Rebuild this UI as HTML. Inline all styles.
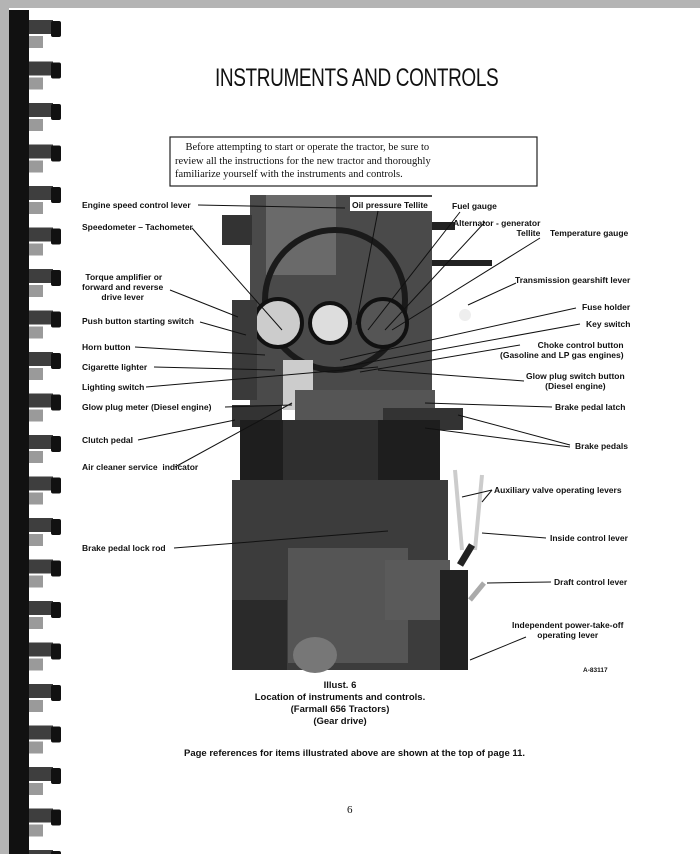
<!DOCTYPE html>
<html><head><meta charset="utf-8">
<style>
html,body{margin:0;padding:0;}
body{width:700px;height:854px;background:#fff;position:relative;overflow:hidden;font-family:"Liberation Sans",sans-serif;}
.t{position:absolute;white-space:nowrap;color:#111;}
</style></head><body>
<svg width="700" height="854" style="position:absolute;left:0;top:0">
<rect x="0" y="0" width="700" height="8" fill="#b4b4b4"/>
<rect x="0" y="0" width="9" height="854" fill="#b4b4b4"/>
<rect x="9" y="10" width="20" height="844" fill="#111"/>
<g id="coils">
</g>
<g>
<rect x="250" y="195" width="182" height="210" fill="#4a4a4a"/>
<rect x="266" y="195" width="70" height="80" fill="#6a6a6a"/>
<rect x="222" y="215" width="30" height="30" fill="#333"/>
<rect x="432" y="222" width="60" height="8" fill="#222"/>
<rect x="432" y="260" width="60" height="6" fill="#222"/>
<circle cx="335" cy="300" r="70" fill="none" stroke="#1a1a1a" stroke-width="6"/>
<circle cx="278" cy="323" r="24" fill="#ccc" stroke="#111" stroke-width="4"/>
<circle cx="330" cy="323" r="20" fill="#ddd" stroke="#111" stroke-width="4"/>
<circle cx="383" cy="323" r="24" fill="#555" stroke="#111" stroke-width="4"/>
<rect x="232" y="300" width="25" height="100" fill="#3a3a3a"/>
<rect x="283" y="360" width="30" height="50" fill="#ccc"/>
<rect x="295" y="390" width="140" height="30" fill="#555"/>
<rect x="232" y="405" width="50" height="22" fill="#333"/>
<rect x="383" y="408" width="80" height="22" fill="#333"/>
<rect x="240" y="420" width="200" height="62" fill="#1e1e1e"/>
<rect x="283" y="420" width="95" height="60" fill="#2f2f2f"/>
<rect x="232" y="480" width="216" height="190" fill="#3c3c3c"/>
<rect x="288" y="548" width="120" height="115" fill="#555"/>
<rect x="385" y="560" width="65" height="60" fill="#5a5a5a"/>
<rect x="440" y="570" width="28" height="100" fill="#222"/>
<rect x="232" y="600" width="55" height="70" fill="#2a2a2a"/>
<ellipse cx="315" cy="655" rx="22" ry="18" fill="#777"/>
<line x1="455" y1="470" x2="462" y2="550" stroke="#ccc" stroke-width="4"/>
<line x1="482" y1="475" x2="475" y2="550" stroke="#ccc" stroke-width="4"/>
<line x1="472" y1="545" x2="460" y2="565" stroke="#222" stroke-width="7"/>
<line x1="484" y1="583" x2="470" y2="600" stroke="#aaa" stroke-width="5"/>
<circle cx="465" cy="315" r="6" fill="#eee"/>
<rect x="350" y="197" width="100" height="14" fill="#fff"/>
<rect x="455" y="215" width="80" height="28" fill="#fff"/>
</g>
<g stroke="#111" stroke-width="1" fill="none">
<line x1="198" y1="205" x2="345" y2="208"/>
<line x1="192" y1="228" x2="282" y2="330"/>
<line x1="170" y1="290" x2="238" y2="317"/>
<line x1="200" y1="322" x2="246" y2="335"/>
<line x1="135" y1="347" x2="265" y2="355"/>
<line x1="154" y1="367" x2="275" y2="370"/>
<line x1="146" y1="387" x2="378" y2="367"/>
<line x1="225" y1="407" x2="292" y2="405"/>
<line x1="138" y1="440" x2="235" y2="420"/>
<line x1="175" y1="467" x2="292" y2="403"/>
<line x1="174" y1="548" x2="388" y2="531"/>
<line x1="378" y1="211" x2="356" y2="325"/>
<line x1="460" y1="212" x2="368" y2="330"/>
<line x1="485" y1="222" x2="385" y2="330"/>
<line x1="540" y1="238" x2="392" y2="330"/>
<line x1="516" y1="283" x2="468" y2="305"/>
<line x1="576" y1="308" x2="340" y2="360"/>
<line x1="580" y1="324" x2="343" y2="367"/>
<line x1="520" y1="345" x2="360" y2="372"/>
<line x1="524" y1="381" x2="378" y2="370"/>
<line x1="552" y1="407" x2="425" y2="403"/>
<line x1="570" y1="445" x2="458" y2="415"/>
<line x1="570" y1="447" x2="425" y2="428"/>
<line x1="492" y1="490" x2="462" y2="497"/>
<line x1="492" y1="490" x2="482" y2="502"/>
<line x1="546" y1="538" x2="482" y2="533"/>
<line x1="551" y1="582" x2="487" y2="583"/>
<line x1="526" y1="637" x2="470" y2="660"/>
</g>
<rect x="170" y="137" width="367" height="49" fill="none" stroke="#222" stroke-width="1.2"/>
</svg>
<div class="t" style="left:215px;top:64px;font-size:25px;letter-spacing:-0.5px;transform:scaleX(0.76);transform-origin:0 0;">INSTRUMENTS AND CONTROLS</div>
<div class="t" style="left:175px;top:141px;font-family:'Liberation Serif',serif;font-size:10.5px;line-height:13.5px;">&nbsp;&nbsp;&nbsp;&nbsp;Before attempting to start or operate the tractor, be sure to<br>review all the instructions for the new tractor and thoroughly<br>familiarize yourself with the instruments and controls.</div>
<div style="position:absolute;left:0;top:0;font-size:8.5px;font-weight:bold;line-height:10px;">
<div class="t" style="left:82px;top:200px">Engine speed control lever</div>
<div class="t" style="left:82px;top:222px">Speedometer – Tachometer</div>
<div class="t" style="left:82px;top:272px;text-align:center">&nbsp;Torque amplifier or<br>forward and reverse<br>drive lever</div>
<div class="t" style="left:82px;top:316px">Push button starting switch</div>
<div class="t" style="left:82px;top:342px">Horn button</div>
<div class="t" style="left:82px;top:362px">Cigarette lighter</div>
<div class="t" style="left:82px;top:382px">Lighting switch</div>
<div class="t" style="left:82px;top:402px">Glow plug meter (Diesel engine)</div>
<div class="t" style="left:82px;top:435px">Clutch pedal</div>
<div class="t" style="left:82px;top:462px">Air cleaner service&nbsp; indicator</div>
<div class="t" style="left:82px;top:543px">Brake pedal lock rod</div>
<div class="t" style="left:352px;top:200px">Oil pressure Tellite</div>
<div class="t" style="left:452px;top:201px">Fuel gauge</div>
<div class="t" style="left:453px;top:218px;text-align:right">Alternator - generator<br>Tellite</div>
<div class="t" style="left:550px;top:228px">Temperature gauge</div>
<div class="t" style="left:515px;top:275px">Transmission gearshift lever</div>
<div class="t" style="left:582px;top:302px">Fuse holder</div>
<div class="t" style="left:586px;top:319px">Key switch</div>
<div class="t" style="left:500px;top:340px;text-align:right">&nbsp;&nbsp;&nbsp;&nbsp;&nbsp;&nbsp;&nbsp;&nbsp;&nbsp;Choke control button<br>(Gasoline and LP gas engines)</div>
<div class="t" style="left:526px;top:371px;text-align:center">Glow plug switch button<br>(Diesel engine)</div>
<div class="t" style="left:555px;top:402px">Brake pedal latch</div>
<div class="t" style="left:575px;top:441px">Brake pedals</div>
<div class="t" style="left:494px;top:485px">Auxiliary valve operating levers</div>
<div class="t" style="left:550px;top:533px">Inside control lever</div>
<div class="t" style="left:554px;top:577px">Draft control lever</div>
<div class="t" style="left:512px;top:620px;text-align:center">Independent power-take-off<br>operating lever</div>
<div class="t" style="left:583px;top:666px;font-size:6.5px">A-83117</div>
</div>
<div class="t" style="left:240px;top:680px;width:200px;text-align:center;font-size:9.5px;line-height:12px;font-weight:bold;">Illust. 6<br>Location of instruments and controls.<br>(Farmall 656 Tractors)<br>(Gear drive)</div>
<div class="t" style="left:184px;top:748px;font-size:9.5px;font-weight:bold;">Page references for items illustrated above are shown at the top of page 11.</div>
<div class="t" style="left:347px;top:804px;font-size:11px;font-family:'Liberation Serif',serif;">6</div>
<script>
var g=document.getElementById('coils'),s='';
for(var i=0;i<21;i++){var y=8+i*41.5;
s+='<rect x="29" y="'+(y+12)+'" width="24" height="14" fill="#3e3e3e"/>';
s+='<rect x="29" y="'+(y+28)+'" width="14" height="12" fill="#9a9a9a"/>';
s+='<rect x="51" y="'+(y+13)+'" width="10" height="16" rx="2" fill="#111"/>';}
g.innerHTML=s;
</script>
</body></html>
